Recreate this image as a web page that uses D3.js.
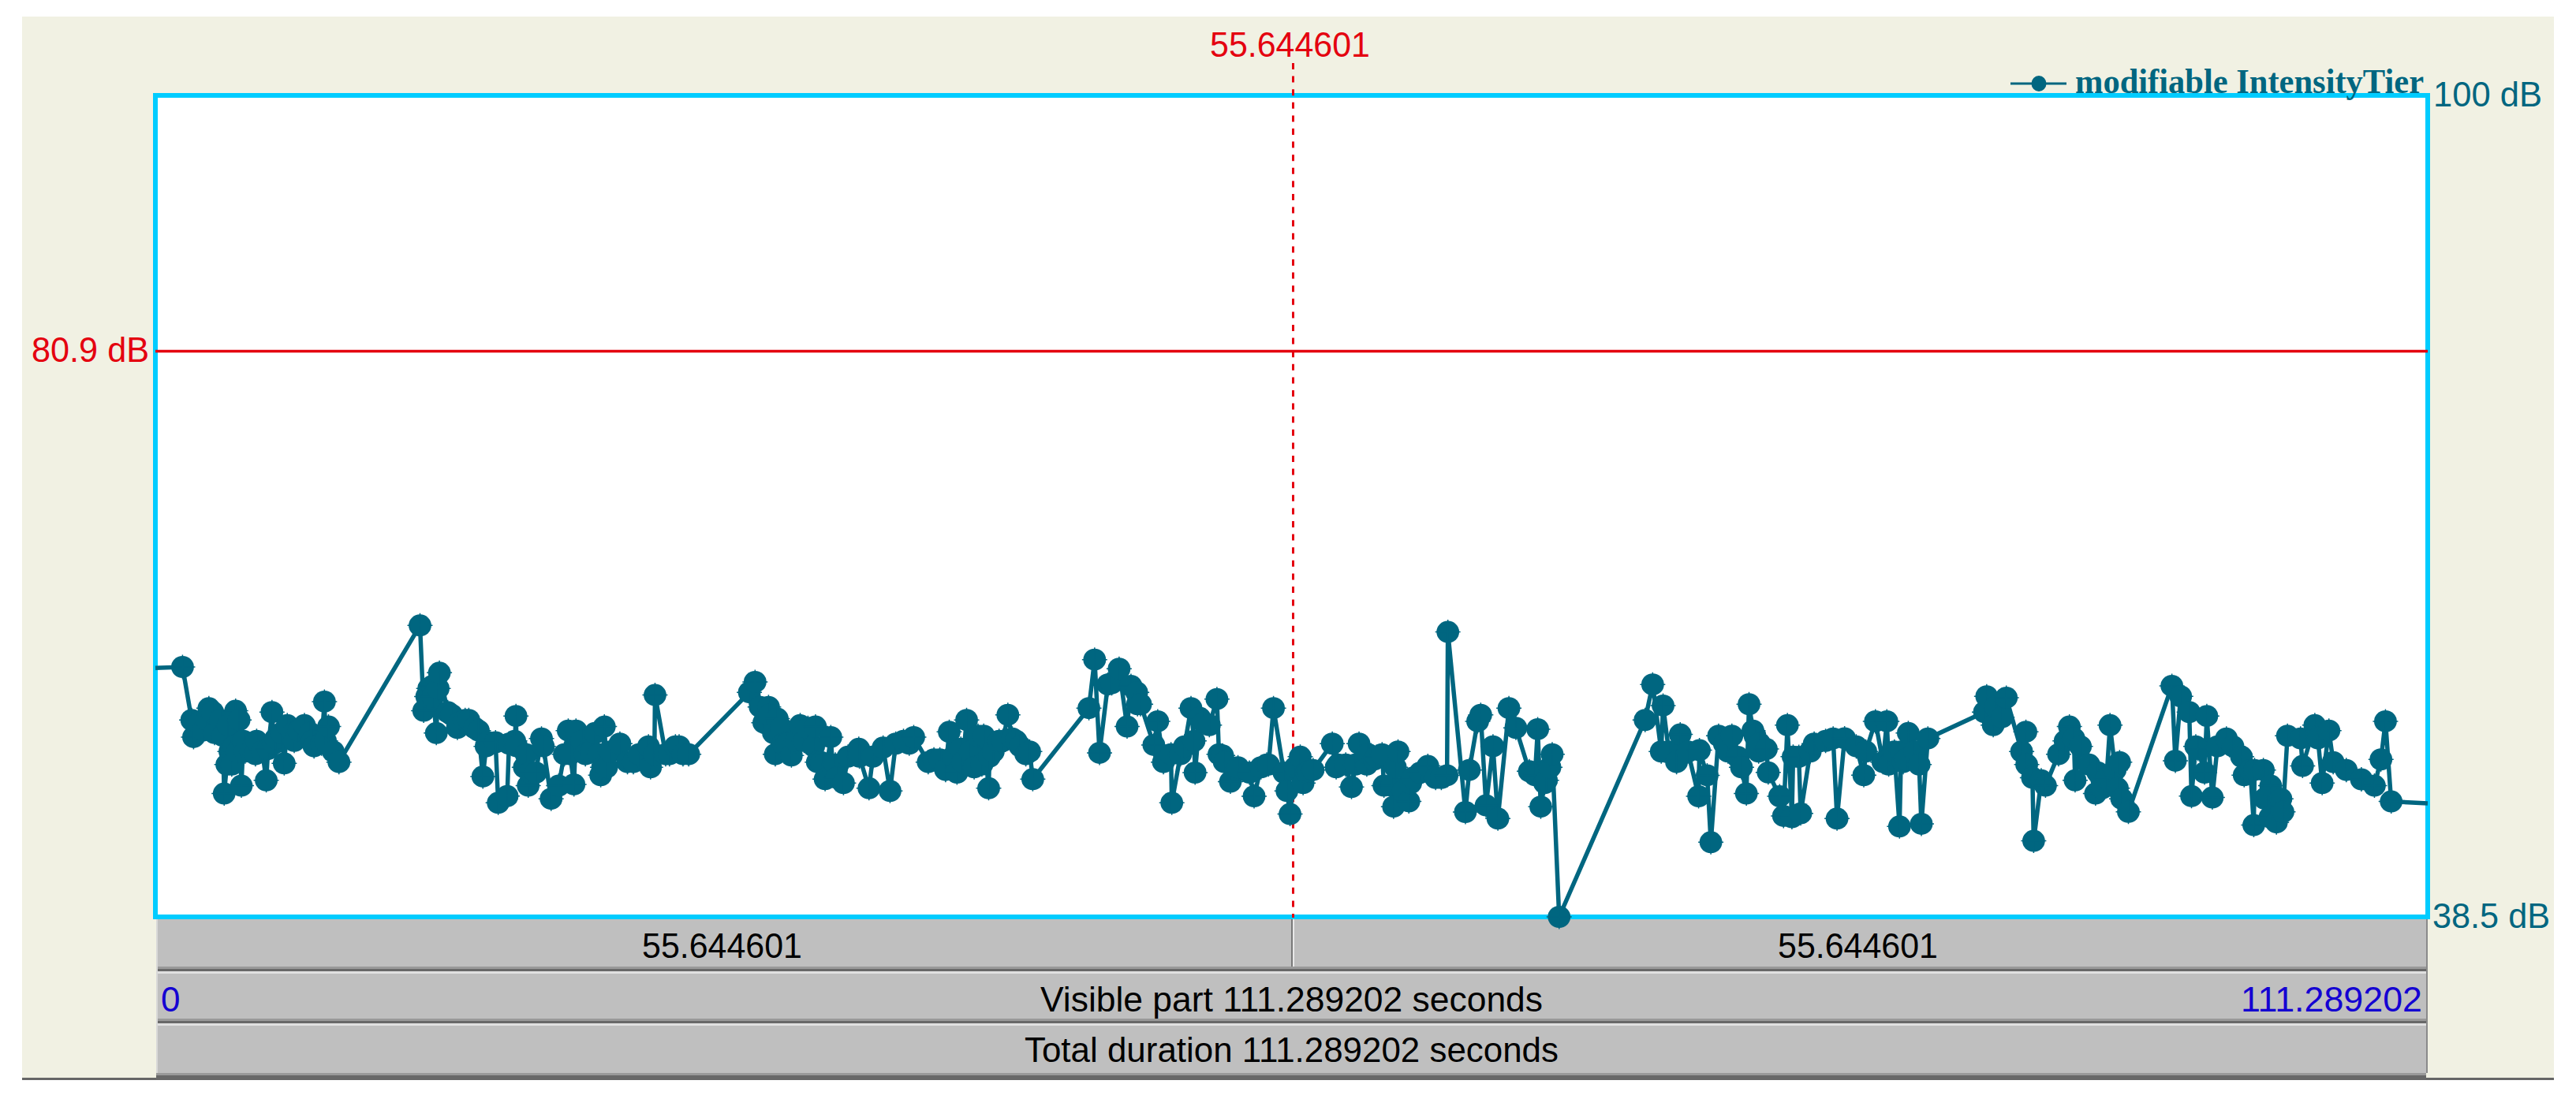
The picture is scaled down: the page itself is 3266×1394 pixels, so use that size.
<!DOCTYPE html>
<html>
<head>
<meta charset="utf-8">
<script src="https://cdn.jsdelivr.net/npm/d3@7"></script>
<style>html,body{margin:0;padding:0;background:#fff}svg{display:block}</style>
</head>
<body>
<svg id="c" width="3266" height="1394"></svg>
<script>
// Tier points: [seconds, dB]
const pointsA = [[1.33,57.21],[1.87,51.96],[2.15,53.04],[2.34,52.45],[2.62,54.12],[2.90,52.26],[3.37,47.73],[3.56,52.85],[3.74,49.90],[3.84,51.27],[3.93,53.93],[4.21,48.32],[4.31,51.67],[4.68,50.88],[4.96,51.67],[5.24,50.88],[5.43,48.72],[5.71,53.83],[5.90,51.86],[6.31,49.99],[6.46,52.85],[6.74,52.26],[7.30,52.85],[7.68,51.67],[8.14,51.47],[8.28,54.62],[8.48,52.75],[8.71,50.88],[8.99,50.09],[12.96,60.32],[13.14,53.93],[13.39,55.60],[13.60,55.0],[13.76,52.26],[13.91,56.78],[14.51,53.63],[14.88,53.04],[15.35,53.24],[15.63,52.65],[16.04,49.01],[16.29,51.57],[16.79,47.04],[17.23,47.54],[17.60,51.67],[17.66,53.54],[18.07,49.70],[18.26,48.32],[18.63,49.30],[18.91,51.86],[19.38,47.34],[19.75,48.32],[20.03,50.68],[20.22,52.45],[20.50,48.42],[20.88,51.67],[21.34,50.88],[21.81,49.11],[21.99,52.75],[22.10,49.70],[22.75,51.47],[23.12,50.09],[23.68,50.68],[24.15,51.27],[24.25,49.70],[24.47,55.11],[24.99,50.68],[25.65,51.27],[25.84,50.68]];
const pointsB = [[29.09,55.31],[29.37,56.09],[29.80,53.04],[30.03,54.22],[30.36,50.68],[30.46,53.34],[30.74,51.47],[31.15,50.58],[31.58,52.85],[32.33,52.75],[32.61,50.09],[32.80,48.81],[33.08,51.96],[33.17,49.70],[33.70,48.52],[33.92,50.49],[34.45,51.08],[34.95,48.13],[35.14,50.49],[35.64,51.17],[35.98,47.93],[36.64,51.67],[37.14,51.96],[38.13,50.29],[38.70,49.50],[38.88,52.35],[39.26,49.30],[39.45,51.08],[39.73,53.24],[40.10,49.70],[40.57,52.06],[40.81,48.13],[40.85,50.49],[41.32,51.67],[41.75,53.63],[42.16,51.67],[42.63,50.68],[42.97,48.81],[45.72,54.13],[46.00,57.76],[46.24,50.78],[46.65,55.90],[47.20,57.08],[47.59,52.75],[48.06,55.31],[48.25,54.42],[48.90,51.37],[49.09,53.14],[49.37,50.09],[49.78,47.04],[50.21,50.68],[50.72,54.13],[50.92,49.30],[51.34,53.04],[51.99,54.81],[52.27,50.58],[52.65,48.62],[53.02,49.70],[53.81,47.53],[54.43,49.90],[54.76,54.13],[55.42,47.93],[55.57,46.20],[56.07,50.49],[56.21,48.52],[56.48,49.40]];
const pointsC = [[56.70,49.50],[57.64,51.47],[57.92,49.90],[58.58,48.22],[58.95,51.47],[59.33,49.90],[59.80,50.48],[60.17,48.32],[60.64,46.75],[60.86,50.88],[61.39,47.14],[61.58,48.91],[62.32,49.80],[62.98,48.90],[63.30,59.83],[64.16,46.35],[64.35,49.50],[64.76,53.14],[64.91,53.63],[65.17,46.85],[65.51,51.27],[65.75,45.86],[66.29,54.13],[66.63,52.65],[67.29,49.40],[67.70,52.55],[67.85,46.75],[68.13,48.72],[68.41,50.68],[68.75,38.50],[72.96,53.24],[73.33,55.90],[73.75,50.88],[73.84,54.32],[74.50,50.09],[74.68,52.16],[75.58,47.53],[75.62,50.98],[76.00,49.10],[76.18,44.09],[76.56,52.06],[77.02,50.88],[77.21,52.06],[77.68,49.70],[77.92,47.73],[78.05,54.42],[78.34,52.06],[78.52,50.88],[78.99,49.31],[79.55,47.53],[79.74,46.06],[79.93,52.85],[80.21,50.49],[80.58,46.25],[81.24,51.47],[81.80,51.67],[82.36,45.86],[82.73,51.87],[83.67,49.11],[83.77,50.88],[84.24,53.14],[84.80,53.14],[84.89,49.90]];
const pointsD = [[85.42,45.27],[85.74,50.29],[85.85,52.26],[86.38,49.90],[86.49,45.47],[86.81,51.86],[89.69,55.01],[90.01,52.85],[90.65,54.91],[91.40,50.88],[91.61,52.36],[91.93,48.91],[91.99,44.19],[92.57,48.32],[93.21,50.68],[93.53,51.67],[93.74,52.75],[94.02,48.72],[94.28,51.27],[95.02,47.73],[95.56,48.91],[95.73,52.85],[96.20,50.09],[96.63,46.36],[98.76,55.80],[98.93,50.19],[99.19,55.01],[99.72,47.54],[99.93,51.27],[100.47,53.54],[100.74,47.44],[100.99,51.27],[101.43,51.86],[102.17,50.49],[102.77,45.37],[102.81,49.50],[103.45,47.54],[103.88,45.57],[104.10,47.34],[104.42,52.06],[105.16,49.80],[105.76,52.85],[106.12,48.52],[106.45,52.45],[106.66,50.09],[107.30,49.50],[108.04,48.80],[108.68,48.32],[109.00,50.29],[109.22,53.14],[109.50,47.14]];
// Points inside the dense clumps
const pointsDense = [[1.78,53.24],[2.53,53.24],[2.81,53.83],[3.18,53.24],[3.30,52.06],[3.65,50.88],[3.50,49.90],[4.10,53.24],[4.02,50.88],[4.40,50.88],[4.90,50.68],[5.52,51.07],[5.80,51.47],[6.18,52.26],[6.80,51.67],[7.02,52.45],[7.58,52.26],[7.77,51.27],[8.33,51.67],[13.29,55.0],[13.57,55.8],[13.85,55.6],[14.32,53.83],[14.79,52.65],[15.17,53.24],[15.82,52.45],[16.20,51.27],[16.66,51.57],[17.32,51.47],[17.69,51.27],[18.16,50.68],[18.35,49.3],[19.00,51.27],[20.31,50.68],[20.60,52.45],[21.06,50.68],[21.53,52.26],[21.72,50.68],[21.90,49.7],[22.28,50.88],[23.41,50.09],[24.44,50.68],[25.18,50.68],[25.47,51.27],[26.12,50.68],
[29.62,54.22],[30.08,53.63],[30.27,52.26],[30.65,52.65],[30.93,51.47],[31.39,51.67],[31.77,51.67],[31.96,52.65],[32.24,51.27],[32.42,50.09],[32.70,49.9],[33.36,48.91],[33.30,49.9],[34.48,50.49],[36.26,51.47],[36.92,51.47],[37.85,50.09],[38.42,50.29],[39.07,50.49],[39.91,50.88],[39.54,50.09],[40.29,52.06],[40.48,49.9],[41.04,50.88],[41.51,51.67],[41.97,51.86],[42.35,51.27],[42.82,50.88],[46.84,55.99],[47.78,55.8],[48.10,54.42],[49.74,50.68],[50.40,51.27],[50.87,51.67],[51.15,53.4],[51.62,52.85],[52.09,50.68],[52.35,50.09],[53.58,49.3],[54.15,49.7],[54.52,49.9],[55.27,49.3],[55.83,49.7],[56.39,49.3],
[57.83,49.7],[58.30,49.9],[58.77,49.9],[59.40,50.68],[59.70,50.29],[60.08,50.68],[60.55,48.32],[60.73,49.7],[61.11,47.93],[61.48,48.52],[61.95,49.3],[62.70,48.9],[63.26,49.1],[67.57,49.1],[68.04,48.52],[68.30,49.7],[74.12,50.88],[75.06,50.88],[76.84,51.47],[77.49,50.48],[78.57,51.47],[78.24,52.45],[78.90,51.07],[80.15,45.96],[80.49,50.48],[81.05,50.88],[82.17,51.86],[83.30,51.27],[84.61,50.09],[85.17,50.88],[85.60,50.09],[86.17,50.88],[85.50,50.88],
[90.12,54.22],[89.58,53.83],[90.44,53.44],[91.65,49.9],[92.36,48.72],[93.96,51.86],[94.70,49.9],[95.13,49.31],[95.35,48.13],[95.98,49.5],[96.09,48.13],[96.30,47.34],[100.36,49.3],[100.04,51.07],[99.61,53.83],[101.75,51.27],[102.60,49.5],[102.30,49.11],[103.24,49.5],[103.30,47.34],[103.56,45.96],[103.60,48.32],[104.20,46.36],[105.06,51.86],[105.91,51.86]];
const edgeStart = [0, 57.13];
const edgeEnd = [111.289202, 47.0];
const cursorTime = 55.644601;
const cursorDb = 80.9;
const topDb = 100;
const bottomDb = 38.5;
const totalDuration = 111.289202;
const cursorLabel = "55.644601";
const legendLabel = "modifiable IntensityTier";
const visibleLabel = "Visible part 111.289202 seconds";
const totalLabel = "Total duration 111.289202 seconds";

const teal = "#006680", red = "#E4000F", cyan = "#00CCFF", grey = "#BFBFBF", blue = "#1400D2", paper = "#F1F1E3";
const svg = d3.select("#c");
const L = 197, R = 3078, T = 121, B = 1163;
const x = d3.scaleLinear().domain([0, totalDuration]).range([L, R]);
const y = d3.scaleLinear().domain([bottomDb, topDb]).range([B, T]);

const rect = (a, b, c, d, f) => svg.append("rect").attr("x", a).attr("y", b).attr("width", c - a).attr("height", d - b).attr("fill", f);
const text = (s, px, py, anchor, fill, size, len, fam, weight) => {
  const t = svg.append("text").attr("x", px).attr("y", py)
    .attr("text-anchor", anchor).attr("fill", fill).attr("font-size", size)
    .attr("font-family", fam || "Liberation Sans").attr("font-weight", weight || "normal").text(s);
  if (len) t.attr("textLength", len).attr("lengthAdjust", "spacingAndGlyphs");
  return t;
};

// Window background and bottom rule
rect(28, 21, 3238, 1367, paper);
rect(28, 1367, 3238, 1370, "#666666");

// Grey selection bands
const bands = [[1166, 1226, 1232], [1235, 1292, 1298], [1301, 1361, 1370]];
bands.forEach(([a, b, c]) => {
  rect(198, a, 3076, b, grey);
  rect(198, b, 3076, b + 3, "#999999");
  rect(198, b + 3, 3076, c, "#686868");
});
rect(198, 1232, 3076, 1235, "#E0E0E0");
rect(198, 1298, 3076, 1301, "#E0E0E0");
rect(3076, 1166, 3078, 1361, "#8A8A8A");
rect(198, 1166, 200, 1361, "#D8D8D8");
rect(1637, 1166, 1639, 1226, "#7A7A7A");
rect(1639, 1166, 1641, 1226, "#E8E8E8");

// Plot panel
svg.append("rect").attr("x", L).attr("y", T).attr("width", R - L).attr("height", B - T)
  .attr("fill", "#fff").attr("stroke", cyan).attr("stroke-width", 6);

// Cursor lines
svg.append("line").attr("x1", L).attr("x2", R).attr("y1", y(cursorDb) + 1).attr("y2", y(cursorDb) + 1)
  .attr("stroke", red).attr("stroke-width", 3.5);
svg.append("line").attr("x1", x(cursorTime) + 2).attr("x2", x(cursorTime) + 2).attr("y1", 80).attr("y2", 1164)
  .attr("stroke", red).attr("stroke-width", 3).attr("stroke-dasharray", "8 8.6");

// Tier line and markers
const tier = [...pointsA, ...pointsB, ...pointsC, ...pointsD, ...pointsDense].sort((a, b) => d3.ascending(a[0], b[0]));
const lineGen = d3.line().x(d => x(d[0])).y(d => y(d[1]));
svg.append("path").datum([edgeStart, ...tier, edgeEnd]).attr("d", lineGen)
  .attr("fill", "none").attr("stroke", teal).attr("stroke-width", 5.5).attr("stroke-linejoin", "miter");
const marks = svg.append("g").selectAll("g").data(tier).join("g")
  .attr("transform", d => `translate(${x(d[0])},${y(d[1])})`);
marks.append("ellipse").attr("rx", 14.4).attr("ry", 14).attr("fill", teal);
marks.append("path").attr("d", "M-16,0H16M0,-15.5V15.5").attr("stroke", teal).attr("stroke-width", 1.5);

// Legend
svg.append("line").attr("x1", 2549).attr("x2", 2620).attr("y1", 106).attr("y2", 106).attr("stroke", teal).attr("stroke-width", 3);
svg.append("ellipse").attr("cx", 2585).attr("cy", 106).attr("rx", 9.5).attr("ry", 10).attr("fill", teal);
text(legendLabel, 2631, 118, "start", teal, 44, 442, "Liberation Serif", "bold");

// Labels
text(cursorLabel, 1534, 72, "start", red, 44, 203);
text("80.9 dB", 40, 459, "start", red, 44, 149);
text("100 dB", 3085, 135, "start", teal, 44, 138);
text("38.5 dB", 3084, 1177, "start", teal, 44, 149);
text(cursorLabel, 814, 1215, "start", "#000", 44, 203);
text(cursorLabel, 2254, 1215, "start", "#000", 44, 203);
text("0", 204, 1283, "start", blue, 44);
text(visibleLabel, 1319, 1283, "start", "#000", 44, 637);
text("111.289202", 2841, 1283, "start", blue, 44, 230);
text(totalLabel, 1299, 1347, "start", "#000", 44, 677);
</script>
</body>
</html>
